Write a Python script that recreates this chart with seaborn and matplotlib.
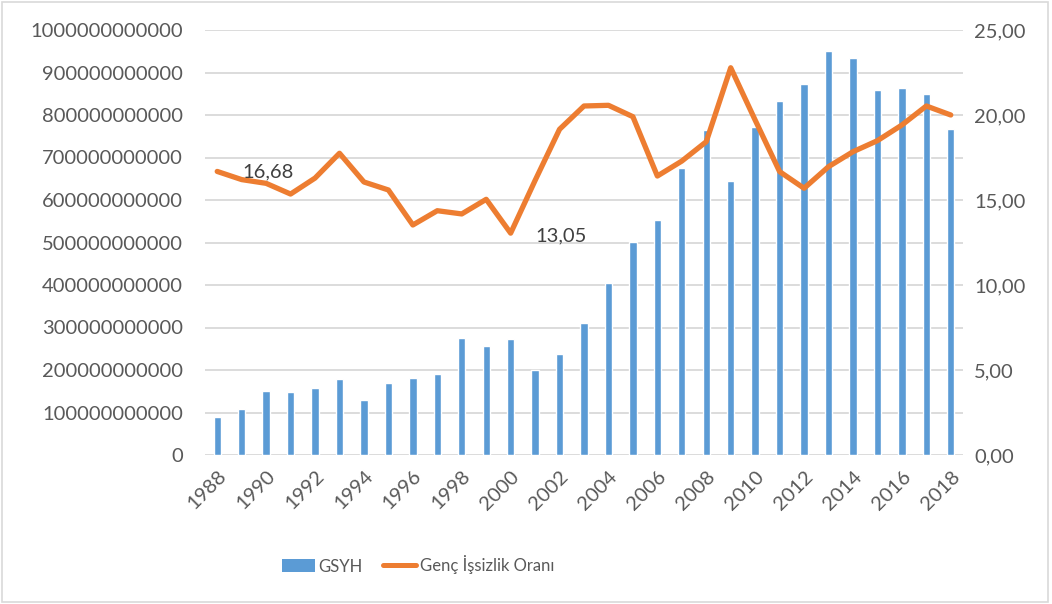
import pandas as pd
import seaborn as sns
import matplotlib.pyplot as plt
from matplotlib.patches import Patch, Rectangle
from matplotlib.lines import Line2D
from matplotlib.ticker import FuncFormatter

years = list(range(1988, 2019))
gsyh = [0.90e11, 1.075e11, 1.506e11, 1.49e11, 1.58e11, 1.79e11, 1.30e11, 1.69e11,
        1.81e11, 1.90e11, 2.75e11, 2.56e11, 2.73e11, 2.00e11, 2.38e11, 3.11e11,
        4.04e11, 5.01e11, 5.52e11, 6.75e11, 7.64e11, 6.44e11, 7.71e11, 8.32e11,
        8.74e11, 9.50e11, 9.33e11, 8.59e11, 8.64e11, 8.50e11, 7.67e11]
genc_issizlik = [16.68, 16.2, 15.98, 15.35, 16.29, 17.75, 16.06, 15.59, 13.53, 14.37,
                 14.18, 15.04, 13.05, 16.15, 19.16, 20.53, 20.57, 19.9, 16.41, 17.29,
                 18.43, 22.78, 19.7, 16.67, 15.69, 16.96, 17.84, 18.49, 19.41, 20.53, 20.0]
bar_label = "GSYH"
line_label = "Genç İşsizlik Oranı"

df = pd.DataFrame({"yil": years, "gsyh": gsyh, "oran": genc_issizlik})

blue = "#5B9BD5"
orange = "#ED7D31"
txt = "#595959"
grid = "#D9D9D9"

sns.set_style("white")
plt.rcParams["font.family"] = ["Lato", "DejaVu Sans"]
plt.rcParams["font.size"] = 14.5

fig = plt.figure(figsize=(10.52, 6.04), dpi=100)
ax = fig.add_axes([205 / 1052, 1 - 455 / 604, (963 - 205) / 1052, (455 - 30) / 604])

sns.barplot(data=df, x="yil", y="gsyh", native_scale=True, width=0.3,
            color=blue, saturation=1, ax=ax, zorder=2)
ax.set_ylim(0, 1e12)
ax.set_yticks([i * 1e11 for i in range(11)])
ax.yaxis.set_major_formatter(FuncFormatter(lambda v, p: f"{int(round(v))}"))
ax.set_xlim(1987.5, 2018.5)
ax.set_xticks(years[::2])
ax.set_xticklabels([str(y) for y in years[::2]], rotation=45, ha="right",
                   rotation_mode="anchor")
ax.grid(axis="y", color=grid, linewidth=1.3, zorder=0)
ax.set_axisbelow(True)
for s in ax.spines.values():
    s.set_visible(False)
ax.tick_params(axis="both", colors=txt, length=0, labelsize=14.5)
ax.tick_params(axis="y", pad=16)
ax.tick_params(axis="x", pad=9)
ax.set_xlabel("")
ax.set_ylabel("")

ax2 = ax.twinx()
sns.lineplot(data=df, x="yil", y="oran", color=orange, linewidth=3.8, ax=ax2,
             zorder=3)
ax2.set_ylim(0, 25)
ax2.set_yticks([0, 5, 10, 15, 20, 25])
ax2.yaxis.set_major_formatter(FuncFormatter(lambda v, p: f"{v:.2f}".replace(".", ",")))
for s in ax2.spines.values():
    s.set_visible(False)
ax2.tick_params(axis="y", colors=txt, length=0, labelsize=14.5, pad=8)
ax2.set_ylabel("")
ax2.set_xlabel("")

# veri etiketleri
ax2.annotate("16,68", (years[0], genc_issizlik[0]), xytext=(51, 0),
             textcoords="offset pixels", ha="center", va="center",
             color="#404040", fontsize=14.5)
ax2.annotate("13,05", (years[12], genc_issizlik[12]), xytext=(50, -3),
             textcoords="offset pixels", ha="center", va="center",
             color="#404040", fontsize=14.5)

handles = [Patch(facecolor=blue, edgecolor="none"),
           Line2D([0], [0], color=orange, linewidth=3.6)]
fig.legend(handles, [bar_label, line_label], loc="center",
           bbox_to_anchor=(418 / 1052, 1 - 565 / 604), ncol=2, frameon=False,
           fontsize=12, labelcolor=txt, handlelength=2.0, handleheight=0.85,
           handletextpad=0.2, columnspacing=1.2)

fig.patches.append(Rectangle((0.002, 0.003), 0.994, 0.994, transform=fig.transFigure,
                             fill=False, edgecolor=grid, linewidth=1.2))

fig.savefig("out.png", dpi=100)
